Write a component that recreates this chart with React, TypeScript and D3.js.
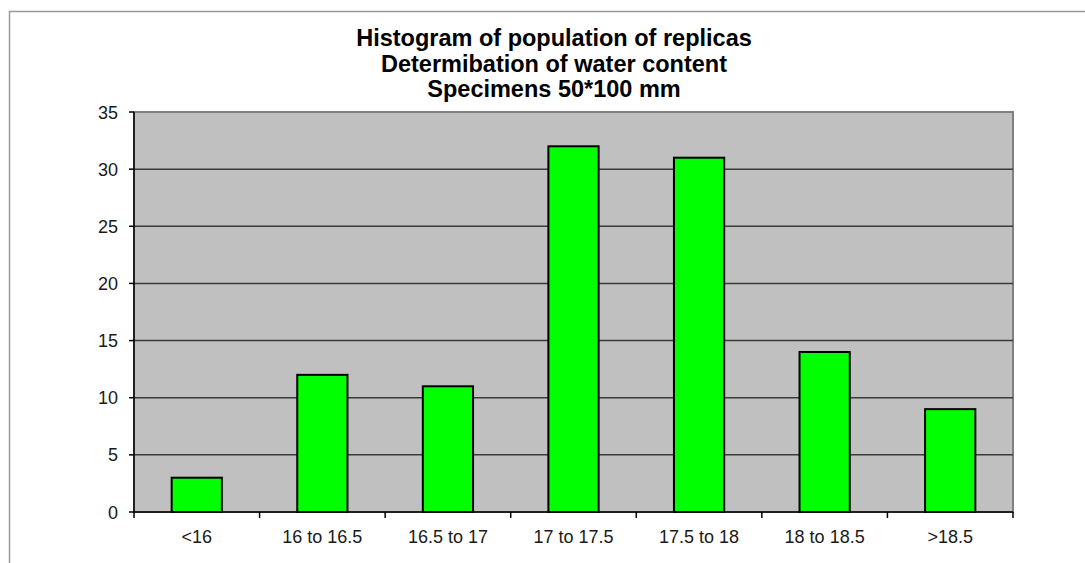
import * as d3 from "d3"
import React, { useRef, useEffect } from "react"

const categories = ["<16", "16 to 16.5", "16.5 to 17", "17 to 17.5", "17.5 to 18", "18 to 18.5", ">18.5"]
const counts = [3, 12, 11, 32, 31, 14, 9]
const yTicks = [0, 5, 10, 15, 20, 25, 30, 35]
const titleLines = ["Histogram of population of replicas", "Determibation of water content", "Specimens 50*100 mm"]

const W = 1085
const H = 563
const FONT = "'Liberation Sans', Arial, sans-serif"

function Chart() {
    const ref = useRef<SVGSVGElement>(null)

    useEffect(() => {
        const svg = d3.select(ref.current)
        svg.selectAll("*").remove()

        const left = 134, right = 1013, top = 112, bottom = 512

        // outer frame
        svg.append("rect")
            .attr("x", 9.5).attr("y", 11.5)
            .attr("width", W + 20).attr("height", H + 20)
            .attr("fill", "#fff")
            .attr("stroke", "#9a9a9a")
            .attr("stroke-width", 1.5)

        const x = d3.scaleBand().domain(categories).range([left, right]).paddingInner(0.6).paddingOuter(0.3)
        const y = d3.scaleLinear().domain([0, 35]).range([bottom, top])
        const step = x.step()

        // plot area
        svg.append("rect")
            .attr("x", left).attr("y", top)
            .attr("width", right - left).attr("height", bottom - top)
            .attr("fill", "#c0c0c0")
            .attr("stroke", "#808080")
            .attr("stroke-width", 2)

        // gridlines
        svg.selectAll(".grid")
            .data(yTicks.filter(d => d > 0 && d < 35))
            .enter()
            .append("line")
            .attr("x1", left).attr("x2", right)
            .attr("y1", d => y(d)).attr("y2", d => y(d))
            .attr("stroke", "#3a3a3a")
            .attr("stroke-width", 1.5)

        // bars
        svg.selectAll(".bar")
            .data(counts)
            .enter()
            .append("rect")
            .attr("x", (d, i) => x(categories[i])!)
            .attr("y", d => y(d))
            .attr("width", x.bandwidth())
            .attr("height", d => bottom - y(d))
            .attr("fill", "#00ff00")
            .attr("stroke", "#000")
            .attr("stroke-width", 2)

        // y axis
        svg.append("line")
            .attr("x1", left).attr("x2", left)
            .attr("y1", top).attr("y2", bottom)
            .attr("stroke", "#000").attr("stroke-width", 1.5)
        svg.selectAll(".ytick")
            .data(yTicks)
            .enter()
            .append("line")
            .attr("x1", left - 5).attr("x2", left)
            .attr("y1", d => y(d)).attr("y2", d => y(d))
            .attr("stroke", "#000").attr("stroke-width", 1.5)
        svg.selectAll(".ylab")
            .data(yTicks)
            .enter()
            .append("text")
            .attr("x", left - 16)
            .attr("y", d => y(d) + 6.5)
            .attr("text-anchor", "end")
            .attr("font-size", "18px")
            .attr("font-family", FONT)
            .attr("fill", "#1a1a1a")
            .text(d => d)

        // x axis
        svg.append("line")
            .attr("x1", left).attr("x2", right)
            .attr("y1", bottom).attr("y2", bottom)
            .attr("stroke", "#000").attr("stroke-width", 1.5)
        svg.selectAll(".xtick")
            .data(d3.range(categories.length + 1))
            .enter()
            .append("line")
            .attr("x1", i => left + i * step).attr("x2", i => left + i * step)
            .attr("y1", bottom).attr("y2", bottom + 6)
            .attr("stroke", "#000").attr("stroke-width", 1.5)
        svg.selectAll(".xlab")
            .data(categories)
            .enter()
            .append("text")
            .attr("x", d => x(d)! + x.bandwidth() / 2)
            .attr("y", 543)
            .attr("text-anchor", "middle")
            .attr("font-size", "18px")
            .attr("font-family", FONT)
            .attr("fill", "#1a1a1a")
            .text(d => d)

        // title
        svg.selectAll(".title")
            .data(titleLines)
            .enter()
            .append("text")
            .attr("x", 554)
            .attr("y", (d, i) => 46 + i * 25.5)
            .attr("text-anchor", "middle")
            .attr("font-size", "23.5px")
            .attr("font-weight", "bold")
            .attr("font-family", FONT)
            .attr("fill", "#000")
            .text(d => d)
    }, [])

    return <svg ref={ref} width={W} height={H} style={{ display: "block" }} />
}

export default function App() {
    return (
        <div style={{ position: "absolute", left: 0, top: 0 }}>
            <Chart />
        </div>
    )
}
